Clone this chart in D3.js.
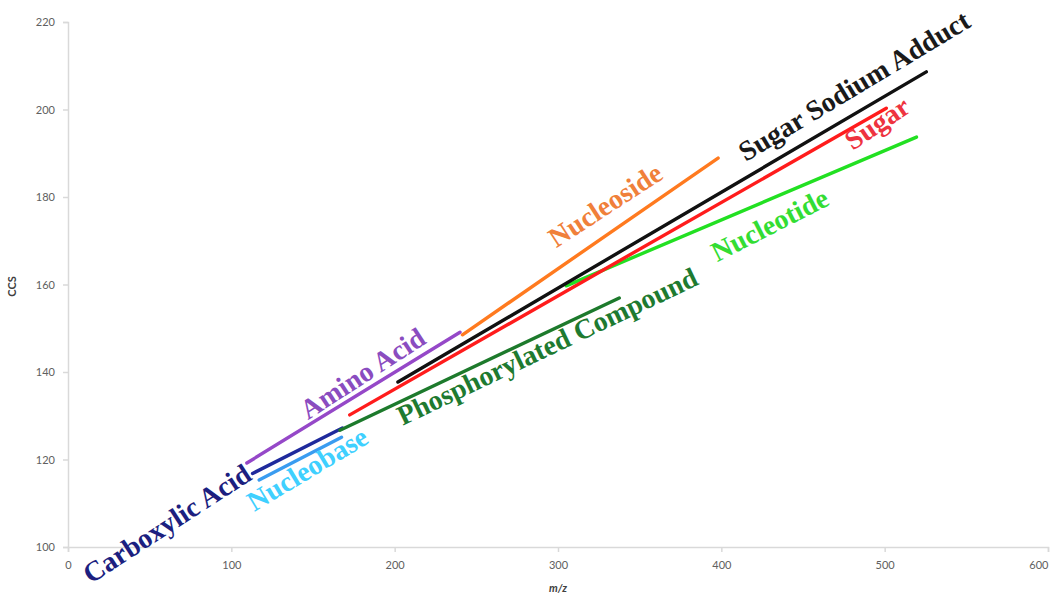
<!DOCTYPE html>
<html>
<head>
<meta charset="utf-8">
<script src="https://cdn.jsdelivr.net/npm/d3@7"></script>
<style>
  body { margin: 0; background: #fff; }
  svg { display: block; }
</style>
</head>
<body>
<svg id="chart" width="1050" height="596"></svg>
<script>
// Compound classes and the trend line for each (m/z vs CCS)
const classes = ["Carboxylic Acid", "Nucleobase", "Amino Acid", "Phosphorylated Compound",
                 "Nucleotide", "Sugar", "Sugar Sodium Adduct", "Nucleoside"];
const mzFrom  = [113,   117,   109.5, 166.5, 305,   172.5, 202,   241.5];
const mzTo    = [168,   167.5, 240,   337.5, 519.5, 501,   525.5, 398];
const ccsFrom = [116.8, 115.3, 119.2, 126.7, 159.7, 130.2, 137.7, 148.5];
const ccsTo   = [127.2, 125.1, 149.1, 156.9, 193.7, 200.3, 208.6, 188.9];

const lineColors = ["#1f2a9c", "#3a9cf0", "#9548c8", "#1d7a2c", "#22e022", "#ff1c1c", "#111111", "#ff7a1f"];
const textColors = ["#1c1f80", "#3fd0ff", "#8a4cc0", "#1e7a30", "#33dd33", "#ee3340", "#1a1a1a", "#f0803a"];

// Label anchor (m/z, CCS at baseline start) and rotation for each class
const labelMz    = [14, 114, 147, 205, 397.5, 480.5, 415, 299];
const labelCcs   = [91.5, 108, 129, 127.7, 165.1, 190.5, 188, 168.3];
const labelAngle = [-33, -31, -33, -25.5, -27, -34, -31, -33];

const xTicks = [0, 100, 200, 300, 400, 500, 600];
const yTicks = [100, 120, 140, 160, 180, 200, 220];

const svg = d3.select("#chart");
const x = d3.scaleLinear().domain([0, 600]).range([68, 1048]);
const y = d3.scaleLinear().domain([100, 220]).range([547, 22]);

const axisColor = "#d9d9d9";
const tickText = "#606060";

// Axes
const gx = svg.append("g").attr("transform", `translate(0,${y(100)})`)
  .call(d3.axisBottom(x).tickValues(xTicks).tickSize(5).tickPadding(9));
const gy = svg.append("g").attr("transform", `translate(${x(0)},0)`)
  .call(d3.axisLeft(y).tickValues(yTicks).tickSize(5).tickPadding(8));
[gx, gy].forEach(g => {
  g.selectAll("path, line").attr("stroke", axisColor).attr("stroke-width", 1.5);
  g.selectAll("text").attr("fill", tickText)
    .style("font-family", "Lato, 'Open Sans', sans-serif").style("font-size", "11px");
});
// the last x tick label sits against the right edge
gx.selectAll(".tick text").filter(d => d === 600).attr("text-anchor", "end");

// Axis titles
svg.append("text")
  .attr("transform", `translate(16,${(y(100) + y(220)) / 2 + 2}) rotate(-90)`)
  .attr("text-anchor", "middle")
  .attr("fill", "#404040")
  .style("font-family", "Lato, sans-serif").style("font-size", "11px").style("font-weight", "bold")
  .text("CCS");
svg.append("text")
  .attr("x", (x(0) + x(600)) / 2)
  .attr("y", 592)
  .attr("text-anchor", "middle")
  .attr("fill", "#404040")
  .style("font-family", "Lato, sans-serif").style("font-size", "11px")
  .style("font-weight", "bold").style("font-style", "italic")
  .text("m/z");

// Trend lines
const line = d3.line().x(d => x(d[0])).y(d => y(d[1]));
svg.append("g").selectAll("path")
  .data(classes.map((c, i) => ({ c, i, pts: [[mzFrom[i], ccsFrom[i]], [mzTo[i], ccsTo[i]]] })))
  .join("path")
  .attr("d", d => line(d.pts))
  .attr("fill", "none")
  .attr("stroke", d => lineColors[d.i])
  .attr("stroke-width", 3.4)
  .attr("stroke-linecap", "round");

// Class labels
svg.append("g").selectAll("text")
  .data(classes.map((c, i) => ({ c, i })))
  .join("text")
  .attr("transform", d => `translate(${x(labelMz[d.i])},${y(labelCcs[d.i])}) rotate(${labelAngle[d.i]})`)
  .attr("fill", d => textColors[d.i])
  .style("font-family", "'Liberation Serif', 'Times New Roman', serif")
  .style("font-weight", "bold")
  .style("font-size", "28px")
  .text(d => d.c);
</script>
</body>
</html>
